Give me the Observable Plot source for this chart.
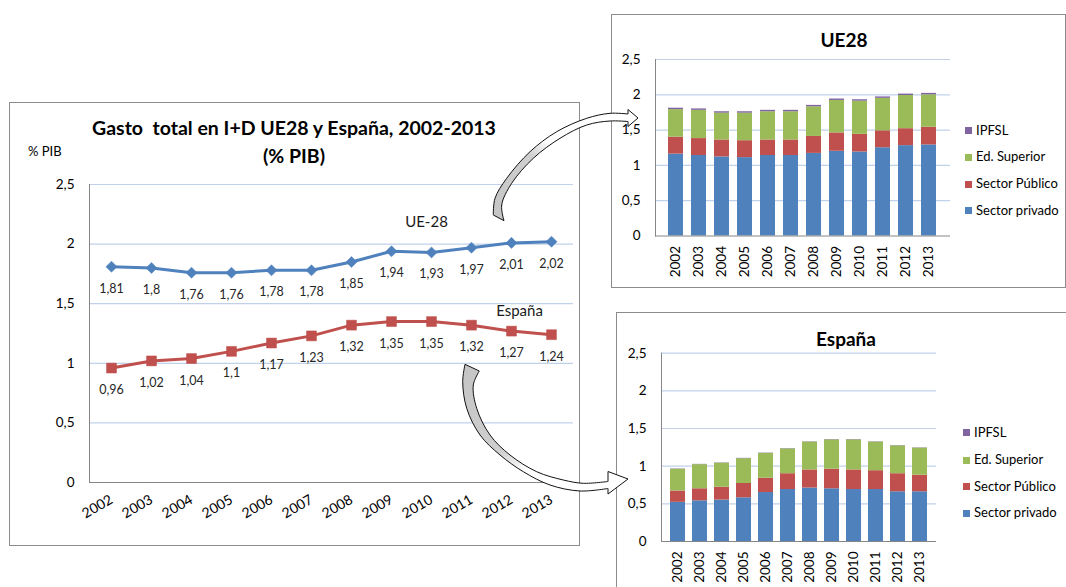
<!DOCTYPE html>
<html>
<head>
<meta charset="utf-8">
<script src="https://cdn.jsdelivr.net/npm/d3@7"></script>
<script src="https://cdn.jsdelivr.net/npm/@observablehq/plot@0.6"></script>
<style>
  html, body { margin: 0; padding: 0; background: #fff; }
  #root { position: relative; width: 1066px; height: 587px; overflow: hidden; background: #fff; font-family: Lato, "Open Sans", sans-serif; }
  .box { position: absolute; border: 1px solid #8c8c8c; box-sizing: border-box; background: #fff; }
  .abs { position: absolute; white-space: pre; line-height: 1; color: #000; }
  #root svg { overflow: visible; }
  .leg-sq { position: absolute; width: 7px; height: 7px; }
</style>
</head>
<body>
<div id="root"></div>
<script>
// ---------- DATA ----------
const years = ["2002","2003","2004","2005","2006","2007","2008","2009","2010","2011","2012","2013"];
const yTicks = [0, 0.5, 1, 1.5, 2, 2.5];

const seriesNames = ["UE-28", "España"];
const seriesColors = ["#4F81BD", "#C0504D"];
const totalUE28   = [1.81, 1.8, 1.76, 1.76, 1.78, 1.78, 1.85, 1.94, 1.93, 1.97, 2.01, 2.02];
const totalEspana = [0.96, 1.02, 1.04, 1.1, 1.17, 1.23, 1.32, 1.35, 1.35, 1.32, 1.27, 1.24];
// where the series names sit (year, % PIB)
const seriesLabelYears  = ["2010", "2012"];
const seriesLabelValues = [2.18, 1.435];

const sectors = ["Sector privado", "Sector Público", "Ed. Superior", "IPFSL"];
const sectorColors = ["#4F81BD", "#C0504D", "#9BBB59", "#8064A2"];

const ue28Privado    = [1.16, 1.14, 1.12, 1.11, 1.14, 1.14, 1.17, 1.20, 1.19, 1.25, 1.28, 1.29];
const ue28Publico    = [0.24, 0.24, 0.24, 0.24, 0.22, 0.22, 0.24, 0.26, 0.25, 0.24, 0.24, 0.25];
const ue28EdSuperior = [0.39, 0.40, 0.38, 0.39, 0.40, 0.40, 0.42, 0.46, 0.47, 0.46, 0.47, 0.46];
const ue28IPFSL      = [0.02, 0.02, 0.02, 0.02, 0.02, 0.02, 0.02, 0.02, 0.02, 0.02, 0.02, 0.02];

const espPrivado    = [0.52, 0.54, 0.55, 0.58, 0.65, 0.69, 0.71, 0.70, 0.69, 0.69, 0.66, 0.66];
const espPublico    = [0.15, 0.16, 0.17, 0.19, 0.19, 0.21, 0.24, 0.26, 0.26, 0.25, 0.24, 0.22];
const espEdSuperior = [0.29, 0.32, 0.32, 0.33, 0.33, 0.33, 0.37, 0.39, 0.40, 0.38, 0.37, 0.36];
const espIPFSL      = [0.004, 0.004, 0.004, 0.004, 0.004, 0.004, 0.004, 0.004, 0.004, 0.004, 0.004, 0.004];

// ---------- HELPERS ----------
const root = document.getElementById("root");
const fmt = d => String(d).replace(".", ",");
const gridColor = "#BFD2EA";
const axisColor = "#868686";
const FONT = "Lato, 'Open Sans', sans-serif";

function place(el, left, top) {
  el.style.position = "absolute";
  el.style.left = left + "px";
  el.style.top = top + "px";
  root.appendChild(el);
  return el;
}
function box(left, top, w, h) {
  const d = document.createElement("div");
  d.className = "box";
  d.style.width = w + "px"; d.style.height = h + "px";
  return place(d, left, top);
}
function label(text, cx, capCenterY, size, bold, anchor = "middle") {
  const d = document.createElement("div");
  d.className = "abs";
  d.textContent = text;
  d.style.fontSize = size + "px";
  d.style.fontWeight = bold ? "700" : "400";
  d.style.fontFamily = FONT;
  place(d, cx, capCenterY - 0.527 * size);
  if (anchor === "middle") d.style.transform = "translateX(-50%)";
  return d;
}

// ---------- MAIN LINE CHART ----------
box(9, 102, 571, 444);
label("Gasto  total en I+D UE28 y España, 2002-2013", 294, 128.5, 19.5, true);
label("(% PIB)", 294, 156, 19.5, true);
label("% PIB", 28, 152, 13, false, "start");

const mainData = [];
years.forEach((y, i) => {
  mainData.push({ year: y, value: totalUE28[i], serie: seriesNames[0] });
  mainData.push({ year: y, value: totalEspana[i], serie: seriesNames[1] });
});
const seriesLabels = seriesNames.map((s, i) => ({ serie: s, year: seriesLabelYears[i], value: seriesLabelValues[i] }));

const mainPlot = Plot.plot({
  width: 571, height: 444,
  marginLeft: 80, marginRight: 7, marginTop: 82, marginBottom: 64,
  style: { fontFamily: FONT, fontSize: "13px", color: "#000", background: "transparent" },
  x: { type: "point", domain: years, padding: 0.5, label: null },
  y: { domain: [0, 2.5], label: null },
  color: { domain: seriesNames, range: seriesColors },
  marks: [
    Plot.gridY(yTicks.filter(d => d > 0), { stroke: gridColor, strokeOpacity: 1, strokeWidth: 1.2 }),
    Plot.ruleY([0], { stroke: axisColor }),
    Plot.frame({ anchor: "left", stroke: axisColor }),
    Plot.axisY(yTicks, { tickSize: 0, tickPadding: 15, tickFormat: fmt, fontSize: 13.5, label: null }),
    Plot.axisX({ tickRotate: -30, tickSize: 0, tickPadding: 16, fontSize: 14, label: null }),
    Plot.line(mainData, { x: "year", y: "value", z: "serie", stroke: "serie", strokeWidth: 3 }),
    Plot.dot(mainData.filter(d => d.serie === seriesNames[0]), { x: "year", y: "value", symbol: "diamond2", r: 5, fill: "serie", stroke: "serie", strokeWidth: 0.5 }),
    Plot.dot(mainData.filter(d => d.serie === seriesNames[1]), { x: "year", y: "value", symbol: "square", r: 5.6, fill: "serie", stroke: "serie", strokeWidth: 0.5 }),
    Plot.text(mainData, { x: "year", y: "value", text: d => fmt(d.value), dy: 22, fontSize: 12.5, fill: "#262626" }),
    Plot.text(seriesLabels.slice(0, 1), { x: "year", y: "value", text: "serie", dx: -5, fontSize: 15, fill: "#1a1a1a" }),
    Plot.text(seriesLabels.slice(1, 2), { x: "year", y: "value", text: "serie", dx: 8, fontSize: 15, fill: "#1a1a1a" })
  ]
});
place(mainPlot, 9, 102);

// ---------- STACKED BAR CHARTS ----------
function barChart(parts, geom) {
  const data = [];
  sectors.forEach((s, i) => parts[i].forEach((v, j) => data.push({ year: years[j], sector: s, value: v })));
  return Plot.plot({
    width: geom.width, height: geom.height,
    marginLeft: geom.ml, marginRight: geom.mr, marginTop: geom.mt, marginBottom: geom.mb,
    style: { fontFamily: FONT, fontSize: "13px", color: "#000", background: "transparent" },
    x: { type: "band", domain: years, padding: 0.34, label: null },
    y: { domain: [0, 2.5], label: null },
    color: { domain: sectors, range: sectorColors },
    marks: [
      Plot.gridY(yTicks.filter(d => d > 0), { stroke: gridColor, strokeOpacity: 1, strokeWidth: 1.2 }),
      Plot.barY(data, { x: "year", y: "value", fill: "sector" }),
      Plot.ruleY([0], { stroke: axisColor }),
      Plot.frame({ anchor: "left", stroke: axisColor }),
      Plot.axisY(yTicks, { tickSize: 0, tickPadding: 15, tickFormat: fmt, fontSize: 13.5, label: null }),
      Plot.axisX({ tickRotate: -90, tickSize: 0, tickPadding: 10, fontSize: 13.5, label: null })
    ]
  });
}
function legend(left, rowCenters) {
  const order = sectors.slice().reverse();
  order.forEach((s, k) => {
    const sq = document.createElement("div");
    sq.className = "leg-sq";
    sq.style.background = sectorColors[sectors.indexOf(s)];
    place(sq, left, rowCenters[k] - 3.5);
    label(s, left + 11, rowCenters[k], 13, false, "start");
  });
}

// UE28
box(611, 14, 455, 274);
label("UE28", 844, 40, 19, true);
const ueBars = barChart([ue28Privado, ue28Publico, ue28EdSuperior, ue28IPFSL],
  { width: 454, height: 273, ml: 44, mr: 115, mt: 45, mb: 51.5 });
place(ueBars, 611, 14);
legend(965, [130.7, 157.3, 184, 210.7]);

// España
box(616, 312, 460, 290);
label("España", 846, 339, 19, true);
const esBars = barChart([espPrivado, espPublico, espEdSuperior, espIPFSL],
  { width: 450, height: 275, ml: 45, mr: 130, mt: 40.7, mb: 46 });
place(esBars, 616, 312);
legend(963, [432.7, 460, 486.7, 513.3]);

// ---------- DECORATIVE CURVED ARROWS ----------
const ns = "http://www.w3.org/2000/svg";
const deco = document.createElementNS(ns, "svg");
deco.setAttribute("width", 1066); deco.setAttribute("height", 587);
deco.style.position = "absolute"; deco.style.left = "0px"; deco.style.top = "0px";
deco.style.pointerEvents = "none"; deco.style.zIndex = 10;
deco.innerHTML = `
<defs>
  <linearGradient id="gUE" x1="0" y1="1" x2="1" y2="0">
    <stop offset="0" stop-color="#c4c4c4"/><stop offset="0.42" stop-color="#cfcfcf"/>
    <stop offset="0.55" stop-color="#ffffff"/><stop offset="1" stop-color="#ffffff"/>
  </linearGradient>
  <linearGradient id="gES" x1="0" y1="0" x2="1" y2="1">
    <stop offset="0" stop-color="#c4c4c4"/><stop offset="0.45" stop-color="#cfcfcf"/>
    <stop offset="0.6" stop-color="#ffffff"/><stop offset="1" stop-color="#ffffff"/>
  </linearGradient>
</defs>`;
root.appendChild(deco);
const curve = d3.line().curve(d3.curveCatmullRom.alpha(0.5));
function arrowPath(outer, head, inner) {
  const a = curve(outer);
  const b = curve(inner).replace(/^M/, "L");
  return a + " L" + head.map(p => p.join(",")).join(" L") + " " + b + " Z";
}
const ueArrow = arrowPath(
  [[493.3,215],[495,198.3],[506.7,178.3],[530,151.7],[556.7,131.7],[586.7,118.3],[610,113.3],[628,114]],
  [[628,109.5],[638,118],[628,126.5]],
  [[628,121.5],[610,121],[586.7,125],[560,138.3],[533.3,158.3],[511.7,183.3],[501.7,205],[504,220.7]]
);
const esArrow = arrowPath(
  [[465,364.3],[462.7,381.7],[466.7,408.3],[480,435],[500,455],[523.3,471.7],[550,485],[580,491],[608,488.5]],
  [[608,494],[628,479],[608,471.5]],
  [[608,481.5],[583.3,483.3],[563.3,480],[536.7,471.7],[510,455],[490,435],[476.7,408.3],[473.3,385],[479.3,371]]
);
[[ueArrow, "url(#gUE)"], [esArrow, "url(#gES)"]].forEach(([d, f]) => {
  const p = document.createElementNS(ns, "path");
  p.setAttribute("d", d);
  p.setAttribute("fill", f);
  p.setAttribute("stroke", "#111");
  p.setAttribute("stroke-width", "1");
  p.setAttribute("stroke-linejoin", "round");
  deco.appendChild(p);
});
</script>
</body>
</html>
